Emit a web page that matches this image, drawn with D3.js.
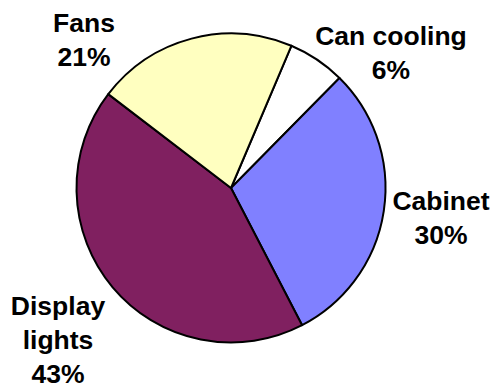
<!DOCTYPE html>
<html>
<head>
<meta charset="utf-8">
<script src="https://cdn.jsdelivr.net/npm/d3@7"></script>
<style>
  html, body { margin: 0; padding: 0; background: #fff; }
  svg { display: block; }
</style>
</head>
<body>
<svg id="chart" width="493" height="385"></svg>
<script>
// Data (clockwise order starting from Can cooling)
const categories = ["Can cooling", "Cabinet", "Display lights", "Fans"];
const values = [6, 30, 43, 21];
const labelLines = [["Can cooling", "6%"], ["Cabinet", "30%"], ["Display", "lights", "43%"], ["Fans", "21%"]];
const colors = ["#FFFFFF", "#8080FF", "#802060", "#FFFFC0"];

const svg = d3.select("#chart");
const cx = 231, cy = 188, r = 154.5;
const startDeg = 23;

const pie = d3.pie().sort(null).value(d => d)
  .startAngle(startDeg * Math.PI / 180)
  .endAngle((startDeg + 360) * Math.PI / 180);
const arcs = pie(values);
const arc = d3.arc().innerRadius(0).outerRadius(r);

const g = svg.append("g").attr("transform", `translate(${cx},${cy})`);
g.selectAll("path").data(arcs).join("path")
  .attr("d", arc)
  .attr("fill", (d, i) => colors[i])
  .attr("stroke", "#000")
  .attr("stroke-width", 2)
  .attr("stroke-linejoin", "round");

// Label anchor positions (center x, first baseline y) in page coordinates
const labelPos = [[391, 45], [441, 210], [58, 315], [84, 32]];
const lineH = 34;
labelLines.forEach((lines, i) => {
  const t = svg.append("text")
    .attr("text-anchor", "middle")
    .attr("font-family", "'Liberation Sans', Arial, sans-serif")
    .attr("font-weight", "bold")
    .attr("font-size", 26.5)
    .attr("fill", "#000");
  lines.forEach((s, j) => {
    t.append("tspan").attr("x", labelPos[i][0]).attr("y", labelPos[i][1] + j * lineH).text(s);
  });
});
</script>
</body>
</html>
